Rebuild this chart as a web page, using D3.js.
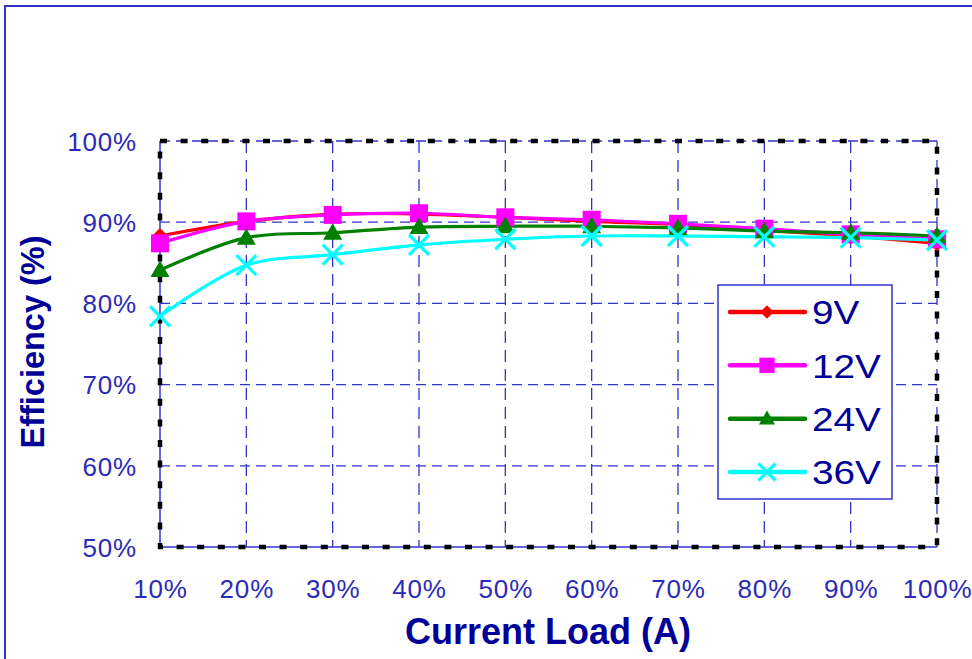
<!DOCTYPE html>
<html>
<head>
<meta charset="utf-8">
<script src="https://cdn.jsdelivr.net/npm/d3@7"></script>
<style>
  html, body { margin: 0; padding: 0; background: #fff; }
  svg { display: block; font-family: "Liberation Sans", Arial, sans-serif; }
</style>
</head>
<body>
<svg id="chart" width="972" height="659"></svg>
<script>
// Load points (x axis categories)
const loads = ["10%", "20%", "30%", "40%", "50%", "60%", "70%", "80%", "90%", "100%"];

// Efficiency (%) for each input voltage
const eff9V  = [88.3, 90.1, 91.0, 91.0, 90.6, 90.1, 89.7, 89.0, 88.3, 87.4];
const eff12V = [87.4, 90.1, 90.9, 91.1, 90.6, 90.3, 89.8, 89.2, 88.5, 87.9];
const eff24V = [84.1, 88.1, 88.7, 89.4, 89.5, 89.5, 89.3, 88.9, 88.7, 88.3];
const eff36V = [78.4, 84.7, 86.0, 87.2, 87.9, 88.3, 88.3, 88.2, 88.1, 87.8];

const seriesNames = ["9V", "12V", "24V", "36V"];
const yTicks = [50, 60, 70, 80, 90, 100];

const series = [
  { name: seriesNames[0], values: eff9V,  color: "#ff0000", symbol: "diamond" },
  { name: seriesNames[1], values: eff12V, color: "#ff00ff", symbol: "square" },
  { name: seriesNames[2], values: eff24V, color: "#008000", symbol: "triangle" },
  { name: seriesNames[3], values: eff36V, color: "#00ffff", symbol: "cross" }
];

const svg = d3.select("#chart");
const blue = "#3333cc";
const tickBlue = "#2b2bb8";
const titleBlue = "#000099";

// outer frame of the chart area
svg.append("rect")
  .attr("x", 5).attr("y", 6)
  .attr("width", 1000).attr("height", 700)
  .attr("fill", "none").attr("stroke", blue).attr("stroke-width", 2);

const plotLeft = 160, plotRight = 937, plotTop = 141, plotBottom = 547;

const x = d3.scalePoint().domain(loads).range([plotLeft, plotRight]);
const y = d3.scaleLinear().domain([50, 100]).range([plotBottom, plotTop]);

// grid
const grid = svg.append("g");
grid.selectAll("line.h")
  .data(yTicks.filter(t => t > 50 && t < 100))
  .join("line")
  .attr("x1", plotLeft).attr("x2", plotRight)
  .attr("y1", d => y(d)).attr("y2", d => y(d))
  .attr("stroke", blue).attr("stroke-width", 1.3)
  .attr("stroke-dasharray", "10,6");
grid.selectAll("line.v")
  .data(loads.slice(1, -1))
  .join("line")
  .attr("x1", d => x(d)).attr("x2", d => x(d))
  .attr("y1", plotTop).attr("y2", plotBottom)
  .attr("stroke", blue).attr("stroke-width", 1.3)
  .attr("stroke-dasharray", "12,7");

// plot frame: thin blue lines beneath a black dotted border
const frame = svg.append("g");
frame.append("line").attr("x1", plotLeft).attr("x2", plotLeft).attr("y1", plotTop).attr("y2", plotBottom)
  .attr("stroke", blue).attr("stroke-width", 1.5);
frame.append("line").attr("x1", plotLeft).attr("x2", plotRight).attr("y1", plotBottom).attr("y2", plotBottom)
  .attr("stroke", blue).attr("stroke-width", 1.5);
frame.append("line").attr("x1", plotLeft).attr("x2", plotRight).attr("y1", plotTop).attr("y2", plotTop)
  .attr("stroke", blue).attr("stroke-width", 1.3).attr("stroke-dasharray", "10,6");
frame.append("line").attr("x1", plotRight).attr("x2", plotRight).attr("y1", plotTop).attr("y2", plotBottom)
  .attr("stroke", blue).attr("stroke-width", 1.3).attr("stroke-dasharray", "12,7");
frame.append("rect")
  .attr("x", plotLeft).attr("y", plotTop)
  .attr("width", plotRight - plotLeft).attr("height", plotBottom - plotTop)
  .attr("fill", "none").attr("stroke", "#000").attr("stroke-width", 4.5)
  .attr("stroke-dasharray", "7,13.6");

// axes
const yAxis = svg.append("g")
  .attr("transform", `translate(${plotLeft},0)`)
  .call(d3.axisLeft(y).tickValues(yTicks).tickFormat(d => d + "%").tickSize(0).tickPadding(23));
const xAxis = svg.append("g")
  .attr("transform", `translate(0,${plotBottom})`)
  .call(d3.axisBottom(x).tickSize(0).tickPadding(33));
[yAxis, xAxis].forEach(a => {
  a.select(".domain").remove();
  a.selectAll("text")
    .attr("fill", tickBlue)
    .style("font-size", "26px")
    .style("letter-spacing", "0.8px")
    .style("font-family", "'Liberation Sans', Arial, sans-serif");
});
yAxis.selectAll("text").attr("dy", "0.36em");

// axis titles
svg.append("text")
  .attr("x", 548).attr("y", 644)
  .attr("text-anchor", "middle")
  .attr("fill", titleBlue)
  .style("font-size", "36px").style("font-weight", "bold")
  .text("Current Load (A)");
svg.append("text")
  .attr("transform", "translate(44,342) rotate(-90)")
  .attr("text-anchor", "middle")
  .attr("fill", titleBlue)
  .style("font-size", "32.5px").style("font-weight", "bold")
  .text("Efficiency (%)");

// marker drawing
function drawMarker(g, symbol, color, k = 1) {
  if (symbol === "diamond") {
    g.append("path").attr("d", `M0,${-8 * k}L${8 * k},0L0,${8 * k}L${-8 * k},0Z`).attr("fill", color);
  } else if (symbol === "square") {
    g.append("rect").attr("x", -9 * k).attr("y", -9 * k)
      .attr("width", 18 * k).attr("height", 18 * k).attr("fill", color);
  } else if (symbol === "triangle") {
    g.append("path").attr("d", `M0,${-9.5 * k}L${9.5 * k},${7 * k}L${-9.5 * k},${7 * k}Z`).attr("fill", color);
  } else {
    g.append("path").attr("d", `M${-10 * k},${-10 * k}L${10 * k},${10 * k}M${-10 * k},${10 * k}L${10 * k},${-10 * k}`)
      .attr("stroke", color).attr("stroke-width", 3.2).attr("fill", "none");
  }
}

const line = d3.line()
  .x((d, i) => x(loads[i]))
  .y(d => y(d))
  .curve(d3.curveCatmullRom.alpha(0.5));

const plot = svg.append("g");
series.forEach(s => {
  plot.append("path")
    .attr("d", line(s.values))
    .attr("fill", "none")
    .attr("stroke", s.color)
    .attr("stroke-width", 3.2);
});
series.forEach(s => {
  s.values.forEach((v, i) => {
    const g = plot.append("g").attr("transform", `translate(${x(loads[i])},${y(v)})`);
    drawMarker(g, s.symbol, s.color);
  });
});

// legend
const legend = svg.append("g");
legend.append("rect")
  .attr("x", 718).attr("y", 285).attr("width", 174).attr("height", 214)
  .attr("fill", "#fff").attr("stroke", blue).attr("stroke-width", 1.5);
const legendY = d3.scalePoint().domain(seriesNames).range([312, 472]);
series.forEach(s => {
  const cy = legendY(s.name);
  legend.append("line")
    .attr("x1", 730).attr("x2", 805).attr("y1", cy).attr("y2", cy)
    .attr("stroke", s.color).attr("stroke-width", 4.5).attr("stroke-linecap", "round");
  const g = legend.append("g").attr("transform", `translate(767,${cy})`);
  drawMarker(g, s.symbol, s.color, 0.85);
  legend.append("text")
    .attr("transform", `translate(812,${cy}) scale(1.14,1)`)
    .attr("dy", "0.36em")
    .attr("fill", titleBlue)
    .style("font-size", "34px")
    .text(s.name);
});
</script>
</body>
</html>
